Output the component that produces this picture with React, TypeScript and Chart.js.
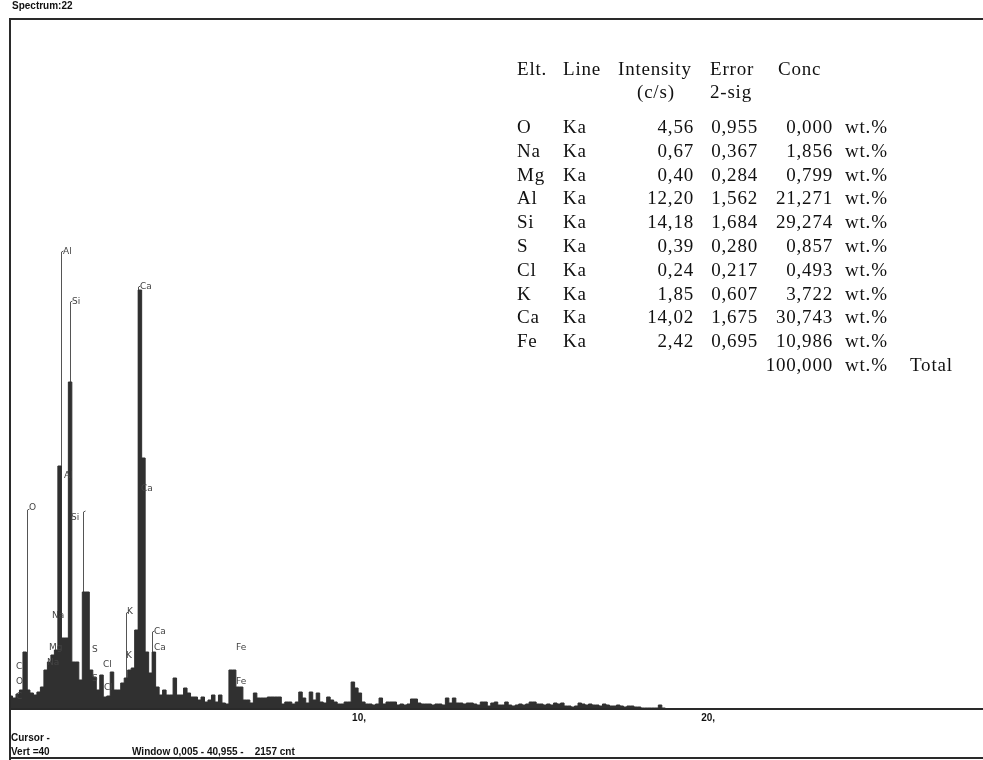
import React, { useEffect, useRef } from "react";
import { Chart, registerables } from "chart.js";

Chart.register(...registerables);

// ---- Spectrum data (counts per 0.1 keV channel) ----
const binWidthKeV = 0.1;
const spectrumCounts = [
  12, 10, 14, 18, 56, 18, 15, 13, 16, 21,
  38, 46, 53, 58, 242, 70, 70, 326, 46, 46,
  28, 116, 116, 38, 31, 18, 33, 11, 12, 36,
  18, 18, 25, 30, 38, 40, 78, 418, 250, 56,
  35, 56, 21, 13, 18, 13, 13, 30, 13, 13,
  20, 15, 11, 11, 8, 11, 6, 8, 13, 6,
  13, 5, 4, 38, 38, 21, 21, 8, 8, 5,
  15, 10, 10, 10, 11, 11, 11, 11, 4, 6,
  6, 4, 6, 16, 10, 5, 16, 8, 15, 6,
  5, 11, 8, 6, 4, 4, 6, 6, 26, 20,
  15, 6, 4, 4, 3, 4, 10, 4, 6, 6,
  6, 3, 4, 3, 4, 9, 9, 5, 4, 4,
  4, 3, 4, 4, 3, 10, 5, 10, 5, 5,
  4, 5, 5, 4, 3, 6, 6, 2, 5, 6,
  3, 3, 6, 3, 2, 3, 4, 3, 4, 6,
  6, 4, 4, 3, 4, 3, 5, 4, 5, 2,
  2, 1, 2, 5, 4, 3, 4, 3, 3, 2,
  4, 3, 2, 2, 3, 2, 1, 2, 2, 1,
  1, 0, 0, 0, 0, 0, 3, 0,
];

// ---- Element marker lines (energy keV, height in counts) ----
const markerKeV = [0.52, 1.49, 1.75, 2.12, 3.35, 3.70, 4.10];
const markerCounts = [198, 456, 406, 196, 95, 421, 76];

// ---- Peak labels ----
const peakLabelText = ["O", "Al", "Si", "Ca", "Al", "Si", "Ca", "K", "K", "Ca", "Ca", "Fe", "Fe", "Cl", "S", "S", "Na", "Mg", "Na", "Cl", "C", "O", "C"];
const peakLabelKeV = [0.573, 1.547, 1.805, 3.753, 1.576, 1.776, 3.781, 3.38, 3.352, 4.154, 4.154, 6.503, 6.503, 2.693, 2.378, 2.378, 1.232, 1.146, 1.089, 2.721, 0.2, 0.2, 0.2];
const peakLabelCounts = [200, 456, 406, 421, 232, 190, 219, 96, 52, 76, 60, 60, 26, 43, 58, 29, 92, 60, 45, 20, 41, 26, 11];

// ---- Axis ----
const xMinKeV = 0;
const xMaxKeV = 27.9;
const yMaxCounts = 689;
const xTickValues = [10, 20];

// ---- Quantification table ----
const tableElements = ["O", "Na", "Mg", "Al", "Si", "S", "Cl", "K", "Ca", "Fe"];
const tableLines = ["Ka", "Ka", "Ka", "Ka", "Ka", "Ka", "Ka", "Ka", "Ka", "Ka"];
const tableIntensity = ["4,56", "0,67", "0,40", "12,20", "14,18", "0,39", "0,24", "1,85", "14,02", "2,42"];
const tableError = ["0,955", "0,367", "0,284", "1,562", "1,684", "0,280", "0,217", "0,607", "1,675", "0,695"];
const tableConc = ["0,000", "1,856", "0,799", "21,271", "29,274", "0,857", "0,493", "3,722", "30,743", "10,986"];
const tableTotal = "100,000";

const titleText = "Spectrum:22";
const cursorText = "Cursor -";
const vertText = "Vert =40";
const windowText = "Window 0,005 - 40,955 -    2157 cnt";

const overlayPlugin = {
  id: "edsOverlay",
  beforeDatasetsDraw(chart: any) {
    const { ctx, scales } = chart;
    const x = scales.x;
    const y = scales.y;
    ctx.save();
    ctx.strokeStyle = "#555";
    ctx.lineWidth = 1;
    markerKeV.forEach((e, i) => {
      const px = Math.round(x.getPixelForValue(e)) + 0.5;
      const top = Math.round(y.getPixelForValue(markerCounts[i]));
      const base = y.getPixelForValue(0);
      ctx.beginPath();
      ctx.moveTo(px, base);
      ctx.lineTo(px, top);
      ctx.lineTo(px + 2, top - 1);
      ctx.stroke();
    });
    ctx.restore();
  },
  afterDatasetsDraw(chart: any) {
    const { ctx, scales } = chart;
    const x = scales.x;
    const y = scales.y;
    ctx.save();
    ctx.fillStyle = "#444";
    ctx.font = "9px 'DejaVu Sans'";
    ctx.textBaseline = "middle";
    ctx.textAlign = "left";
    peakLabelText.forEach((t, i) => {
      ctx.fillText(t, x.getPixelForValue(peakLabelKeV[i]), y.getPixelForValue(peakLabelCounts[i]));
    });
    ctx.restore();
  },
  afterDraw(chart: any) {
    const { ctx, chartArea, scales } = chart;
    const x = scales.x;
    const W = chart.width;
    const H = chart.height;
    ctx.save();
    // frame
    ctx.strokeStyle = "#2a2a2a";
    ctx.lineWidth = 2;
    ctx.beginPath();
    ctx.moveTo(chartArea.left, chartArea.top);
    ctx.lineTo(W, chartArea.top);
    ctx.moveTo(chartArea.left + 1, chartArea.top - 1);
    ctx.lineTo(chartArea.left + 1, H);
    ctx.moveTo(chartArea.left, chartArea.bottom + 1);
    ctx.lineTo(W, chartArea.bottom + 1);
    ctx.moveTo(chartArea.left, H - 2);
    ctx.lineTo(W, H - 2);
    ctx.stroke();

    // tick labels
    ctx.fillStyle = "#111";
    ctx.font = "bold 10px 'Liberation Sans'";
    ctx.textBaseline = "middle";
    ctx.textAlign = "left";
    xTickValues.forEach((v) => {
      ctx.fillText(v + ",", x.getPixelForValue(v) - 6, chartArea.bottom + 10);
    });

    // title & footer
    ctx.font = "bold 10px 'Liberation Sans'";
    ctx.fillText(titleText, 12, 6);
    ctx.fillText(cursorText, 11, 738);
    ctx.fillText(vertText, 11, 752);
    ctx.fillText(windowText, 132, 752);

    // table
    ctx.fillStyle = "#111";
    ctx.font = "19px 'Liberation Serif'";
    (ctx as any).letterSpacing = "0.8px";
    ctx.textBaseline = "middle";
    const hdrY1 = 70;
    const hdrY2 = 93;
    ctx.textAlign = "left";
    ctx.fillText("Elt.", 517, hdrY1);
    ctx.fillText("Line", 563, hdrY1);
    ctx.fillText("Intensity", 618, hdrY1);
    ctx.fillText("Error", 710, hdrY1);
    ctx.fillText("Conc", 778, hdrY1);
    ctx.fillText("(c/s)", 637, hdrY2);
    ctx.fillText("2-sig", 710, hdrY2);
    const row0 = 128;
    const rowH = 23.8;
    tableElements.forEach((el, i) => {
      const yy = row0 + i * rowH;
      ctx.textAlign = "left";
      ctx.fillText(el, 517, yy);
      ctx.fillText(tableLines[i], 563, yy);
      ctx.fillText("wt.%", 845, yy);
      ctx.textAlign = "right";
      ctx.fillText(tableIntensity[i], 694, yy);
      ctx.fillText(tableError[i], 758, yy);
      ctx.fillText(tableConc[i], 833, yy);
    });
    const ty = row0 + tableElements.length * rowH;
    ctx.textAlign = "right";
    ctx.fillText(tableTotal, 833, ty);
    ctx.textAlign = "left";
    ctx.fillText("wt.%", 845, ty);
    ctx.fillText("Total", 910, ty);
    ctx.restore();
  },
};

export default function App() {
  const canvasRef = useRef<HTMLCanvasElement | null>(null);

  useEffect(() => {
    if (!canvasRef.current) return;
    const points = spectrumCounts.map((c, i) => ({ x: i * binWidthKeV, y: c }));
    points.push({ x: spectrumCounts.length * binWidthKeV, y: 0 });
    const chart = new Chart(canvasRef.current, {
      type: "line",
      data: {
        datasets: [
          {
            data: points,
            stepped: "before",
            fill: "origin",
            backgroundColor: "#303030",
            borderColor: "#303030",
            borderWidth: 1,
            pointRadius: 0,
          },
        ],
      },
      options: {
        animation: false,
        responsive: false,
        devicePixelRatio: 1,
        layout: { padding: { left: 9, right: 0, top: 19, bottom: 52 } },
        scales: {
          x: { type: "linear", min: xMinKeV, max: xMaxKeV, display: false },
          y: { type: "linear", min: 0, max: yMaxCounts, display: false },
        },
        plugins: { legend: { display: false }, tooltip: { enabled: false } },
      },
      plugins: [overlayPlugin],
    });
    return () => chart.destroy();
  }, []);

  return (
    <div style={{ position: "fixed", left: 0, top: 0, width: 983, height: 760, background: "#fff" }}>
      <canvas ref={canvasRef} width={983} height={760} style={{ display: "block" }} />
    </div>
  );
}
